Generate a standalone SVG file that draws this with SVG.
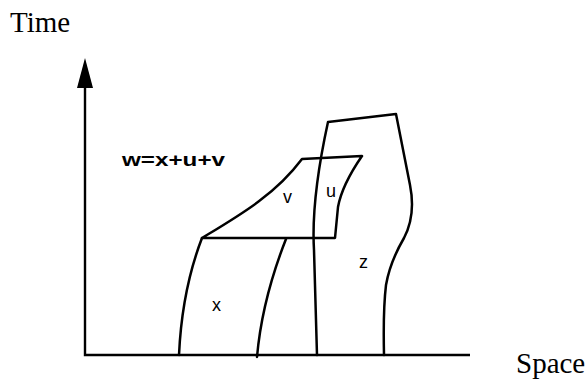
<svg xmlns="http://www.w3.org/2000/svg" width="587" height="385" viewBox="0 0 587 385">
<style>
.ln{fill:none;stroke:#000;stroke-width:2.5;stroke-linejoin:round;stroke-linecap:round}
.ax{fill:none;stroke:#000;stroke-width:2.4}
.lbl{font-family:"Liberation Serif",serif;font-size:29px;fill:#000}
.rg{font-family:"Liberation Sans",Arial,sans-serif;font-size:18px;fill:#000}
.eq{font-family:"Liberation Sans",Arial,sans-serif;font-size:19px;font-weight:bold;fill:#000}
</style>
<g id="axes">
<path class="ax" d="M85,88 L85,355 L470,355"/>
<path d="M85,58 L93,88 L77,88 Z" fill="#000"/>
</g>
<g id="axis-labels">
<text class="lbl" x="10" y="32">Time</text>
<text class="lbl" x="516" y="373">Space</text>
</g>
<g id="equation">
<text class="eq" x="122" y="166" textLength="103" lengthAdjust="spacingAndGlyphs">w=x+u+v</text>
</g>
<g id="connectors">
<path class="ln" d="M202,238 L335,238 L338,207 Q342,185 362,156 L302,159 C275,195 240,215 202,238 Z"/>
<path class="ln" d="M202,238 Q182,290 179,355"/>
<path class="ln" d="M286,239 Q262,300 257,357"/>
<path class="ln" d="M317,355 L314,250 Q311,200 328,122 L396,114 Q403,150 410,185 Q416,215 404,238 Q390,262 386,285 Q383,310 384,355"/>
</g>
<g id="region-labels">
<text class="rg" x="283" y="203">v</text>
<text class="rg" x="326" y="197">u</text>
<text class="rg" x="212" y="311">x</text>
<text class="rg" x="359" y="268">z</text>
</g>
</svg>
